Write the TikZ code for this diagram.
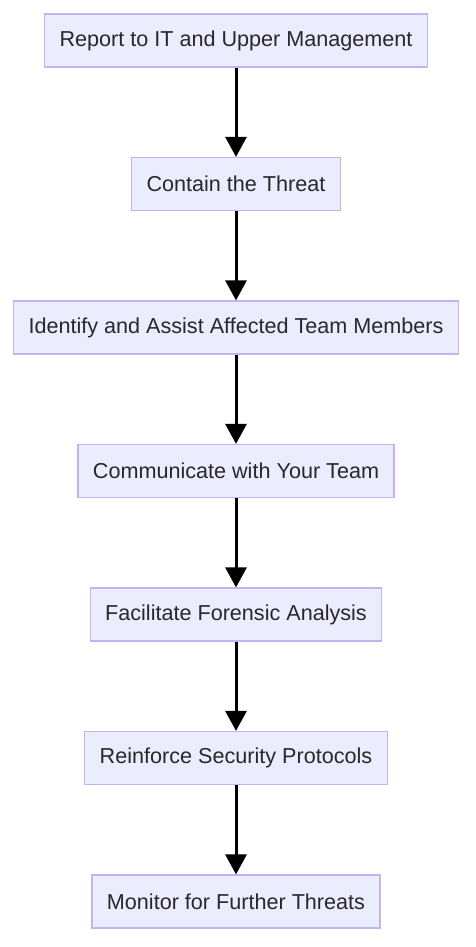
\documentclass[tikz,border=0pt]{standalone}
\usepackage{fontspec}
\setmainfont{Liberation Sans}
\usetikzlibrary{arrows.meta}

\definecolor{boxfill}{RGB}{236,236,255}
\definecolor{boxline}{RGB}{190,182,240}
\definecolor{boxtext}{RGB}{40,40,40}

\tikzset{
    box/.style={draw=boxline, fill=boxfill, text=boxtext, line width=1.2pt,
        minimum height=53pt, inner xsep=15pt, font=\fontsize{21.6}{25}\selectfont},
    flow/.style={line width=3pt, -{Triangle[length=20pt, width=21pt]}}
}

\begin{document}
\begin{tikzpicture}[x=1pt, y=1pt]
    \useasboundingbox (0,0) rectangle (475,-947);

    \node[box] (report) at (236,-40.5) {Report to IT and Upper Management};
    \node[box] (contain) at (236,-184) {Contain the Threat};
    \node[box] (identify) at (236,-327.5) {Identify and Assist Affected Team Members};
    \node[box] (communicate) at (236,-471) {Communicate with Your Team};
    \node[box] (forensic) at (236,-614.5) {Facilitate Forensic Analysis};
    \node[box] (reinforce) at (236,-758) {Reinforce Security Protocols};
    \node[box] (monitor) at (236,-901.5) {Monitor for Further Threats};

    \draw[flow] (report) -- (contain);
    \draw[flow] (contain) -- (identify);
    \draw[flow] (identify) -- (communicate);
    \draw[flow] (communicate) -- (forensic);
    \draw[flow] (forensic) -- (reinforce);
    \draw[flow] (reinforce) -- (monitor);
\end{tikzpicture}
\end{document}
